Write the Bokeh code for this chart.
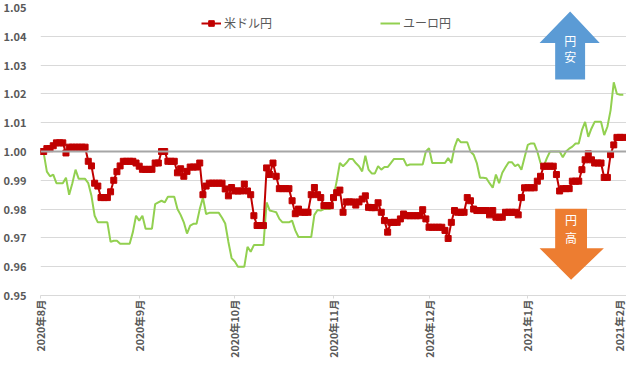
import math
import pandas as pd
from bokeh.plotting import figure
from bokeh.models import (ColumnDataSource, Span, FixedTicker, CustomJSTickFormatter,
                          NumeralTickFormatter, Legend, LegendItem, Range1d)
from bokeh.core.properties import value
from bokeh.embed import file_html
from bokeh.resources import INLINE

# ---- data (daily, from 2020-08-01), rows of 7 days ----
start_date = "2020-08-01"
usd_jpy = [
    1.000, 1.000, 1.001, 1.001, 1.002, 1.003, 1.003,
    1.003, 0.9995, 1.0015, 1.0015, 1.0015, 1.0015, 1.0015,
    1.0015, 0.9966, 0.995, 0.989, 0.988, 0.984, 0.984,
    0.984, 0.986, 0.990, 0.993, 0.995, 0.9966, 0.9966,
    0.9966, 0.9966, 0.996, 0.9949, 0.9938, 0.9938, 0.9938,
    0.9938, 0.996, 0.996, 1.000, 1.000, 0.9966, 0.9966,
    0.9966, 0.9926, 0.994, 0.9914, 0.9931, 0.9946, 0.9946,
    0.9946, 0.996, 0.985, 0.988, 0.989, 0.989, 0.989,
    0.989, 0.989, 0.987, 0.9846, 0.9875, 0.9863, 0.9863,
    0.9863, 0.9887, 0.9863, 0.985, 0.9777, 0.9743, 0.9743,
    0.9743, 0.9943, 0.992, 0.996, 0.9914, 0.9871, 0.9871,
    0.9871, 0.9871, 0.9829, 0.9784, 0.980, 0.9789, 0.9789,
    0.9789, 0.985, 0.9875, 0.985, 0.984, 0.9812, 0.9812,
    0.9812, 0.984, 0.9857, 0.9866, 0.9789, 0.9825, 0.9825,
    0.9825, 0.9814, 0.9825, 0.9835, 0.9846, 0.9806, 0.9805,
    0.9805, 0.9822, 0.9789, 0.976, 0.972, 0.9754, 0.9754,
    0.9754, 0.9766, 0.9783, 0.9777, 0.9777, 0.9777, 0.9777,
    0.9777, 0.9798, 0.9766, 0.9737, 0.9737, 0.9737, 0.9737,
    0.9737, 0.9726, 0.9698, 0.9754, 0.9795, 0.9789, 0.9789,
    0.9789, 0.984, 0.9829, 0.980, 0.9795, 0.9795, 0.9795,
    0.9795, 0.978, 0.9795, 0.9772, 0.9772, 0.9772, 0.9789,
    0.9789, 0.9789, 0.9789, 0.978, 0.984, 0.9874, 0.9874,
    0.9874, 0.9874, 0.9897, 0.9914, 0.9949, 0.9949, 0.9949,
    0.9949, 0.992, 0.9863, 0.9871, 0.9871, 0.9871, 0.9897,
    0.9897, 0.9897, 0.9937, 0.9971, 0.9992, 0.9971, 0.996,
    0.996, 0.996, 0.991, 0.991, 0.9989, 1.0023, 1.0049,
    1.0049, 1.0049,
]
eur_jpy = [
    1.000, 0.9995, 0.993, 0.9914, 0.992, 0.989, 0.989,
    0.989, 0.9909, 0.985, 0.989, 0.9937, 0.9905, 0.9905,
    0.9905, 0.989, 0.9846, 0.9777, 0.9754, 0.9754, 0.9754,
    0.9754, 0.9686, 0.969, 0.969, 0.968, 0.968, 0.968,
    0.968, 0.972, 0.9777, 0.976, 0.9777, 0.9732, 0.9732,
    0.9732, 0.9817, 0.9823, 0.9829, 0.9823, 0.9843, 0.9843,
    0.9843, 0.980, 0.978, 0.9754, 0.9715, 0.9743, 0.9749,
    0.9749, 0.980, 0.984, 0.9783, 0.9787, 0.9787, 0.9787,
    0.9787, 0.977, 0.975, 0.9686, 0.963, 0.9618, 0.960,
    0.960, 0.960, 0.9669, 0.9652, 0.9675, 0.9675, 0.9675,
    0.9675, 0.9823, 0.9795, 0.9792, 0.9789, 0.9766, 0.9754,
    0.9754, 0.9754, 0.976, 0.9726, 0.9703, 0.9703, 0.9703,
    0.9703, 0.9703, 0.978, 0.9797, 0.9795, 0.980, 0.980,
    0.980, 0.984, 0.9897, 0.996, 0.9949, 0.996, 0.9974,
    0.9974, 0.996, 0.9949, 0.9931, 0.9985, 0.9937, 0.9924,
    0.9924, 0.9949, 0.9937, 0.9946, 0.9946, 0.996, 0.9974,
    0.9974, 0.9974, 0.9974, 0.9951, 0.9955, 0.9955, 0.9955,
    0.9955, 0.9955, 1.000, 1.0011, 0.996, 0.996, 0.996,
    0.996, 0.996, 0.9977, 0.996, 1.0015, 1.0045, 1.0032,
    1.0032, 1.0032, 1.000, 0.9989, 0.996, 0.9909, 0.9909,
    0.9907, 0.989, 0.9874, 0.992, 0.989, 0.9926, 0.9945,
    0.9963, 0.9963, 0.9949, 0.9955, 0.9937, 0.998, 1.0023,
    1.0028, 1.0028, 1.000, 0.996, 0.9949, 0.9977, 1.000,
    1.000, 1.000, 1.000, 0.998, 1.000, 1.001, 1.0017,
    1.0028, 1.0028, 1.0074, 1.0103, 1.0051, 1.008, 1.0103,
    1.0103, 1.0103, 1.0057, 1.0086, 1.0143, 1.024, 1.020,
    1.0197, 1.0197,
]
series_names = ["米ドル円", "ユーロ円"]
month_ticks = pd.date_range("2020-08-01", "2021-02-01", freq="MS")
y_ticks = [0.95, 0.96, 0.97, 0.98, 0.99, 1.00, 1.01, 1.02, 1.03, 1.04, 1.05]
arrow_labels_up = ["円", "安"]
arrow_labels_down = ["円", "高"]

DAY = 86400000.0
EPOCH = pd.Timestamp("1970-01-01")
dates = pd.date_range(start_date, periods=len(usd_jpy), freq="D")
x_ms = [(d - EPOCH).total_seconds() * 1000.0 for d in dates]
tick_ms = [(d - EPOCH).total_seconds() * 1000.0 for d in month_ticks]
t0 = tick_ms[0]

src = ColumnDataSource(dict(x=x_ms, usd=usd_jpy, eur=eur_jpy))

FONT = "Noto Sans CJK JP"
TXT = "#595959"

p = figure(width=626, height=363, output_backend="svg", toolbar_location=None,
           x_range=Range1d(tick_ms[0], tick_ms[-1]), y_range=Range1d(0.95, 1.05),
           min_border_left=33, min_border_right=0, min_border_top=7, min_border_bottom=68)
p.outline_line_color = None
p.background_fill_color = "white"
p.border_fill_color = "white"

# axes
p.xaxis.ticker = FixedTicker(ticks=tick_ms)
p.xaxis.formatter = CustomJSTickFormatter(code="""
    const d = new Date(tick);
    return d.getUTCFullYear() + "年" + (d.getUTCMonth() + 1) + "月";
""")
p.xaxis.major_label_orientation = math.pi / 2
p.xaxis.axis_line_color = "#d9d9d9"
p.xaxis.major_tick_line_color = "#d9d9d9"
p.xaxis.major_tick_out = 3
p.xaxis.major_tick_in = 0
p.xaxis.minor_tick_line_color = None
p.xaxis.major_label_standoff = 1
p.xaxis.major_label_text_font = FONT
p.xaxis.major_label_text_font_size = "10.5px"
p.xaxis.major_label_text_font_style = "bold"
p.xaxis.major_label_text_color = TXT

p.yaxis.ticker = FixedTicker(ticks=y_ticks)
p.yaxis.formatter = NumeralTickFormatter(format="0.00")
p.yaxis.axis_line_color = None
p.yaxis.major_tick_line_color = None
p.yaxis.minor_tick_line_color = None
p.yaxis.major_label_standoff = 8
p.yaxis.major_label_text_font = FONT
p.yaxis.major_label_text_font_size = "11px"
p.yaxis.major_label_text_font_style = "bold"
p.yaxis.major_label_text_color = TXT

p.xgrid.grid_line_color = None
p.ygrid.ticker = FixedTicker(ticks=y_ticks)
p.ygrid.grid_line_color = "#d9d9d9"

# base line at 1.00
p.add_layout(Span(location=1.0, dimension="width", line_color="#a6a6a6", line_width=2))

# series
g_line = p.line("x", "eur", source=src, line_color="#92d050", line_width=2)
r_line = p.line("x", "usd", source=src, line_color="#c00000", line_width=2)
r_sc = p.scatter("x", "usd", source=src, marker="square", size=6,
                 fill_color="#c00000", line_color="#c00000")

# arrows (decoration), positioned in axis coordinates
def dx(d):
    return t0 + d * DAY

up_x = [dx(166.3), dx(175.6), dx(171.0), dx(171.0), dx(161.6), dx(161.6), dx(156.7)]
up_y = [1.0486, 1.0377, 1.0377, 1.0250, 1.0250, 1.0377, 1.0377]
p.patch(up_x, up_y, fill_color="#5b9bd5", line_color=None)
dn_x = [dx(161.6), dx(171.6), dx(171.6), dx(176.9), dx(166.6), dx(156.7), dx(161.6)]
dn_y = [0.9801, 0.9801, 0.9664, 0.9664, 0.9555, 0.9664, 0.9664]
p.patch(dn_x, dn_y, fill_color="#ed7d31", line_color=None)

p.text(x=[dx(166.3)] * 2, y=[1.0385, 1.0330], text=arrow_labels_up,
       text_color="white", text_font=value(FONT), text_font_size="12px",
       text_align="center", text_baseline="middle")
p.text(x=[dx(166.6)] * 2, y=[0.9764, 0.9702], text=arrow_labels_down,
       text_color="white", text_font=value(FONT), text_font_size="12px",
       text_align="center", text_baseline="middle")

legend = Legend(items=[LegendItem(label=series_names[0], renderers=[r_line, r_sc]),
                       LegendItem(label=series_names[1], renderers=[g_line])],
                orientation="horizontal", location=(161, 264), spacing=108,
                border_line_color=None, background_fill_alpha=0,
                label_text_font=FONT, label_text_font_size="12px", label_text_color=TXT,
                glyph_width=20, glyph_height=14, label_height=14,
                padding=0, margin=0, label_standoff=3)
p.add_layout(legend)

open("out.html", "w").write(file_html(p, INLINE))
